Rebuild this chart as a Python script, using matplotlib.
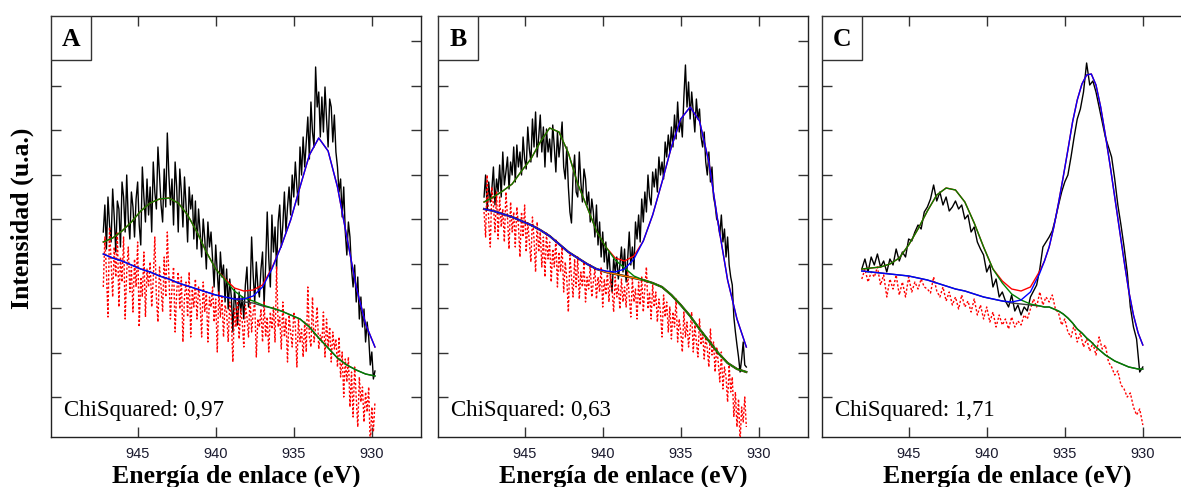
import matplotlib
matplotlib.use("Agg")
import matplotlib.pyplot as plt
from matplotlib.patches import Rectangle
import numpy as np

# XPS Cu 2p3/2 region, three samples, intensity in arbitrary units

# raw spectra (A and B every 0.1 eV, C every 0.2 eV), start / end energy in eV
range_a = (947.2, 929.8)
range_b = (947.6, 930.8)
range_c = (948.0, 930.0)

raw_a = [205, 232, 188, 240, 212, 195, 248, 220, 185, 236,
         228, 190, 255, 240, 205, 262, 218, 198, 245, 230,
         200, 238, 255, 212, 192, 270, 240, 215, 258, 222,
         250, 205, 275, 245, 228, 290, 262, 232, 215, 268,
         230, 304, 262, 232, 258, 212, 275, 250, 205, 268,
         245, 210, 260, 232, 195, 250, 228, 242, 198, 236,
         188, 228, 205, 180, 218, 198, 168, 215, 190, 205,
         178, 150, 192, 165, 140, 185, 160, 172, 135, 168,
         128, 158, 140, 105, 148, 132, 112, 145, 125, 140,
         118, 152, 170, 130, 140, 200, 162, 135, 175, 150,
         140, 168, 185, 132, 172, 225, 178, 150, 222, 185,
         210, 168, 215, 232, 190, 212, 245, 205, 230, 250,
         222, 262, 240, 275, 250, 232, 290, 262, 300, 270,
         295, 320, 278, 335, 305, 290, 370, 330, 345, 300,
         340, 305, 350, 318, 290, 338, 330, 295, 322, 285,
         270, 245, 258, 220, 250, 205, 182, 215, 200, 168,
         150, 172, 135, 160, 118, 140, 110, 128, 95, 115,
         100, 72, 85, 58, 66]
resid_a = [150, 200, 165, 120, 210, 175, 140, 190, 160, 205,
           130, 180, 155, 200, 118, 165, 190, 145, 170, 125,
           178, 150, 195, 110, 160, 140, 185, 120, 168, 150,
           175, 130, 158, 200, 140, 115, 170, 150, 125, 180,
           140, 205, 160, 118, 150, 170, 105, 145, 165, 128,
           160, 95, 140, 155, 120, 165, 100, 148, 130, 158,
           118, 150, 135, 100, 155, 125, 145, 95, 140, 130,
           150, 115, 138, 85, 145, 120, 140, 100, 132, 125,
           95, 135, 118, 75, 130, 110, 140, 98, 128, 115,
           90, 132, 120, 100, 140, 105, 125, 135, 80, 118,
           110, 128, 95, 135, 100, 120, 85, 125, 108, 130,
           95, 170, 110, 120, 88, 135, 100, 118, 75, 122,
           105, 90, 125, 112, 70, 118, 95, 108, 80, 115,
           85, 150, 100, 90, 140, 95, 110, 130, 88, 102,
           95, 125, 80, 118, 90, 110, 75, 105, 88, 98,
           70, 100, 60, 85, 40, 78, 55, 80, 30, 65,
           20, 70, 40, 10, 60, 35, 50, 15, 45, 25,
           50, -10, 30, 5, 35]

raw_b = [240, 262, 228, 255, 235, 248, 270, 232, 258, 245,
         272, 240, 285, 252, 265, 280, 248, 275, 262, 290,
         255, 292, 270, 285, 262, 300, 278, 268, 310, 288,
         275, 318, 290, 325, 280, 300, 322, 285, 310, 270,
         308, 285, 298, 275, 312, 290, 265, 305, 280, 296,
         315, 270, 258, 290, 250, 225, 214, 262, 282, 245,
         240, 285, 255, 235, 268, 258, 232, 245, 215, 238,
         225, 200, 232, 192, 215, 180, 205, 175, 195, 168,
         185, 160, 145, 178, 165, 180, 158, 172, 190, 165,
         188, 155, 178, 205, 172, 190, 168, 215, 198, 222,
         195, 238, 215, 245, 225, 262, 240, 232, 265, 250,
         268, 245, 280, 262, 275, 258, 295, 280, 302, 285,
         310, 290, 322, 298, 335, 305, 318, 300, 340, 372,
         330, 355, 318, 345, 325, 305, 338, 318, 328, 300,
         290, 305, 275, 262, 285, 255, 270, 240, 232, 218,
         215, 202, 222, 195, 208, 180, 200, 172, 160, 152,
         120, 105, 92, 80, 65, 78, 95, 72, 70]
resid_b = [225, 200, 262, 215, 190, 250, 232, 205, 245, 198,
           240, 210, 228, 195, 245, 220, 188, 235, 205, 225,
           190, 230, 212, 180, 225, 200, 232, 185, 215, 195,
           175, 220, 198, 165, 215, 185, 205, 170, 200, 160,
           205, 178, 195, 155, 188, 170, 198, 150, 185, 165,
           190, 145, 175, 158, 125, 182, 160, 140, 178, 150,
           180, 138, 165, 150, 175, 135, 160, 148, 172, 140,
           155, 168, 138, 160, 145, 170, 130, 158, 142, 165,
           135, 162, 148, 125, 160, 140, 152, 128, 158, 135,
           150, 130, 165, 140, 120, 158, 135, 148, 118, 155,
           132, 160, 125, 150, 170, 128, 145, 118, 152, 130,
           145, 115, 138, 125, 100, 142, 120, 135, 105, 130,
           98, 125, 110, 138, 95, 118, 105, 85, 125, 100,
           115, 90, 108, 125, 85, 112, 95, 80, 118, 92,
           105, 78, 100, 88, 70, 108, 82, 95, 65, 90,
           75, 55, 85, 48, 70, 60, 35, 72, 45, 60,
           20, 45, 10, 38, -5, 30, 15, 40, 10]

raw_c = [168, 178, 165, 180, 172, 183, 170, 176, 165, 178,
         172, 188, 176, 185, 180, 198, 196, 205, 212, 208,
         225, 230, 238, 252, 236, 245, 232, 240, 226, 230,
         236, 228, 232, 218, 222, 205, 210, 195, 188, 182,
         165, 172, 150, 158, 140, 145, 136, 130, 142, 126,
         132, 122, 130, 126, 140, 146, 152, 168, 190, 195,
         200, 206, 218, 232, 245, 255, 262, 280, 300, 318,
         328, 345, 374, 352, 356, 345, 330, 315, 300, 290,
         280, 258, 232, 212, 190, 165, 130, 110, 98, 65,
         70]
resid_c = [158, 168, 155, 165, 160, 170, 152, 162, 140, 158,
           148, 162, 142, 155, 140, 160, 145, 155, 148, 158,
           150, 148, 144, 160, 146, 140, 150, 136, 145, 132,
           140, 128, 142, 130, 136, 125, 138, 122, 132, 118,
           130, 115, 125, 110, 122, 112, 118, 108, 120, 110,
           116, 112, 122, 118, 128, 138, 130, 145, 132, 140,
           135, 142, 128, 124, 112, 118, 105, 100, 112, 95,
           104, 90, 98, 86, 94, 82, 100, 88, 92, 75,
           70, 62, 66, 52, 48, 40, 44, 30, 22, 28,
           12]

# fitted curves: background, background + satellite, background + main peak, envelope
fit_energy_a = np.round(np.arange(947.2, 929.7, -0.6), 1)
fit_energy_b = np.round(np.arange(947.6, 930.7, -0.6), 1)
fit_energy_c = [948.0, 947.4, 946.8, 946.2, 945.6, 945.0, 944.4, 943.8, 943.2, 942.6,
                942.0, 941.4, 940.8, 940.2, 939.6, 939.0, 938.4, 937.8, 937.2, 936.6,
                936.3, 936.0, 935.7, 935.4, 935.1, 934.8, 934.5, 934.2, 933.9, 933.6,
                933.3, 933.0, 932.7, 932.4, 932.1, 931.8, 931.5, 931.2, 930.9, 930.6,
                930.3, 930.0]

bg_a = [183, 179, 176, 172, 168, 165, 161, 158, 154, 151, 148, 145, 142, 140, 138,
        135, 134, 131, 129, 126, 122, 118, 110, 99, 89, 79, 72, 67, 63, 61]
sat_a = [195, 199, 206, 215, 226, 234, 238, 239, 234, 222, 205, 185, 168, 157, 146,
         139, 136, 132, 129, 126, 122, 118, 110, 99, 89, 79, 72, 67, 63, 61]
main_a = [183, 179, 176, 172, 168, 165, 161, 158, 154, 151, 148, 145, 142, 140, 138,
          138, 141, 150, 168, 191, 217, 250, 282, 299, 286, 250, 200, 150, 113, 90]
env_a = [195, 199, 206, 215, 226, 234, 238, 239, 234, 222, 205, 185, 168, 158, 149,
         146, 147, 152, 169, 191, 217, 250, 282, 299, 286, 250, 200, 150, 113, 90]

bg_b = [228, 226, 223, 220, 216, 212, 207, 201, 193, 185, 179, 173, 168, 165, 163,
        161, 159, 157, 154, 150, 142, 132, 121, 108, 96, 84, 74, 68, 65]
sat_b = [235, 240, 246, 253, 266, 278, 295, 309, 305, 284, 253, 230, 206, 190, 177,
         169, 161, 157, 154, 150, 142, 132, 121, 108, 96, 84, 74, 68, 65]
main_b = [228, 226, 223, 220, 216, 212, 207, 201, 193, 185, 179, 173, 168, 166, 165,
          168, 178, 196, 222, 255, 290, 318, 330, 316, 275, 213, 157, 118, 90]
env_b = [235, 240, 246, 253, 266, 278, 295, 309, 305, 284, 253, 230, 206, 190, 179,
         176, 181, 196, 222, 255, 290, 318, 330, 316, 275, 213, 157, 118, 90]

bg_c = [166, 165, 164, 163, 162, 161, 159, 157, 154, 151, 148, 146, 143, 140, 138,
        136, 134, 133, 132, 131, 130, 130, 128, 126, 123, 119, 114, 108, 104, 99,
        95, 90, 86, 82, 79, 76, 74, 72, 70, 69, 68, 68]
sat_c = [168, 169, 170, 173, 179, 192, 208, 226, 242, 249, 247, 235, 214, 190, 168,
         154, 143, 137, 133, 131, 130, 130, 128, 126, 123, 119, 114, 108, 104, 99,
         95, 90, 86, 82, 79, 76, 74, 72, 70, 69, 68, 68]
main_c = [166, 165, 164, 163, 162, 161, 159, 157, 154, 151, 148, 146, 143, 140, 138,
          136, 135, 137, 145, 164, 176, 190, 210, 234, 260, 287, 315, 337, 353, 362,
          363, 352, 330, 302, 272, 240, 208, 176, 146, 122, 104, 92]
env_c = [168, 169, 170, 173, 179, 192, 208, 226, 242, 249, 247, 235, 214, 190, 168,
         156, 148, 146, 150, 166, 176, 190, 210, 234, 260, 287, 315, 337, 353, 362,
         363, 352, 330, 302, 272, 240, 208, 176, 146, 122, 104, 92]

panel_labels = ['A', 'B', 'C']
chi_squared = ['0,97', '0,63', '1,71']
xtick_values = [945, 940, 935, 930]
ytick_values = [40, 84.5, 129, 173.5, 218, 262.5, 307, 351.5, 396]

panels = [
    (range_a, raw_a, resid_a, fit_energy_a, bg_a, sat_a, main_a, env_a, '#3a3a3a'),
    (range_b, raw_b, resid_b, fit_energy_b, bg_b, sat_b, main_b, env_b, '#ff8000'),
    (range_c, raw_c, resid_c, fit_energy_c, bg_c, sat_c, main_c, env_c, '#3a3a3a'),
]

serif = 'Liberation Serif'
sans = 'Liberation Sans'

fig = plt.figure(figsize=(11.81, 4.87), dpi=100)
lefts = [51, 438, 822]

for i, (erange, raw, resid, fe, bg, sat, main, env, bg_color) in enumerate(panels):
    ax = fig.add_axes([lefts[i] / 1181, 1 - 437 / 487, 370 / 1181, 421 / 487])
    e_raw = np.linspace(erange[0], erange[1], len(raw))
    e_res = np.linspace(erange[0], erange[1], len(resid))

    ax.plot(e_raw, raw, color='black', lw=1.0, zorder=2)
    ax.plot(e_res, resid, color='#ff0000', lw=1.0, linestyle=(0, (1.6, 1.4)), zorder=3)
    if i == 1:
        ax.plot(fe, bg, color='black', lw=1.6, zorder=4)
    ax.plot(fe, bg, color=bg_color, lw=1.0, zorder=4)
    ax.plot(fe, env, color='#ff0000', lw=1.0, zorder=5)
    ax.plot(fe, sat, color='#008000', lw=1.0, zorder=5)
    ax.plot(fe, main, color='#0000ff', lw=1.0, zorder=6)

    ax.set_xlim(950.55, 926.85)
    ax.set_ylim(0, 421)
    ax.set_xticks(xtick_values)
    ax.set_xticklabels([str(v) for v in xtick_values], fontsize=10.5,
                       family=sans, color='#1a1a2e')
    ax.set_yticks(ytick_values)
    ax.set_yticklabels([])
    ax.tick_params(direction='in', length=7.5, width=1.0, top=True, right=True,
                   color='#333333')
    ax.tick_params(axis='x', pad=7)
    for sp in ax.spines.values():
        sp.set_linewidth(1.0)
        sp.set_color('#222222')

    ax.set_xlabel('Energía de enlace (eV)', fontsize=18.5, fontweight='bold',
                  family=serif, labelpad=3)

    # sample letter in a boxed corner
    ax.add_patch(Rectangle((0, 1 - 44 / 421), 40 / 370, 44 / 421, transform=ax.transAxes,
                           facecolor='white', edgecolor='#333333', lw=1.0, zorder=10))
    ax.text(20 / 370, 1 - 23 / 421, panel_labels[i], transform=ax.transAxes,
            ha='center', va='center', fontsize=18.5, fontweight='bold',
            family=serif, zorder=11)

    ax.text(13 / 370, 21 / 421, 'ChiSquared: ' + chi_squared[i], transform=ax.transAxes,
            ha='left', va='baseline', fontsize=16.5, family=serif, zorder=11)

fig.text(22 / 1181, 1 - 218 / 487, 'Intensidad (u.a.)', rotation=90, ha='center',
         va='center', fontsize=18.5, fontweight='bold', family=serif)

fig.savefig('out.png', dpi=100)
